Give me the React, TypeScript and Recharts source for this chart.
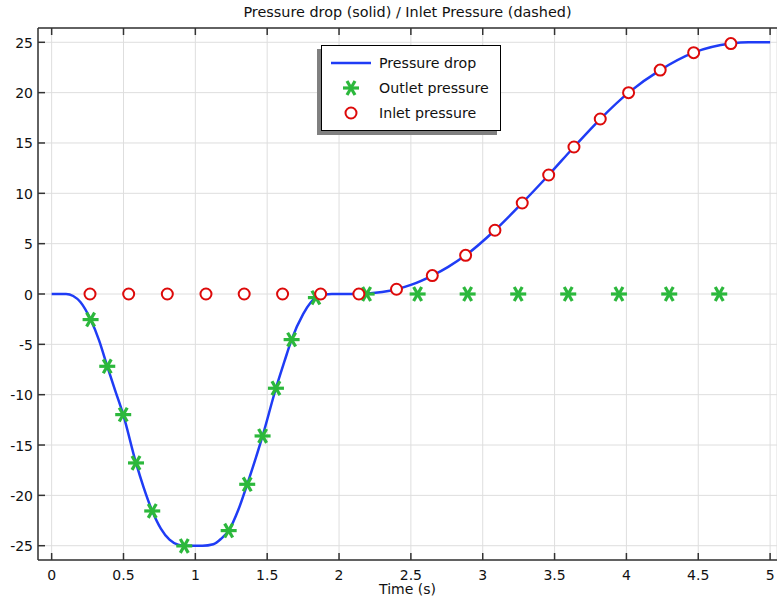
import {
  ComposedChart,
  Line,
  Scatter,
  XAxis,
  YAxis,
  CartesianGrid,
} from "recharts";

// pressure drop curve
const curveTime = [
  0, 0.05, 0.1, 0.15, 0.2, 0.271, 0.33, 0.387, 0.44, 0.498, 0.587, 0.64, 0.7,
  0.76, 0.82, 0.88, 0.923, 1.0, 1.05, 1.125, 1.18, 1.232, 1.3, 1.361, 1.468,
  1.561, 1.62, 1.67, 1.75, 1.8, 1.839, 1.9, 1.95, 2.0, 2.1, 2.2, 2.3, 2.4, 2.5,
  2.649, 2.76, 2.881, 3.085, 3.275, 3.459, 3.635, 3.818, 4.015, 4.235, 4.468,
  4.727, 4.85, 5.0,
];
const curveDrop = [
  0, 0, 0, -0.2, -0.8, -2.54, -4.6, -7.18, -9.5, -11.98, -16.78, -19.2, -21.55,
  -23.3, -24.4, -24.9, -25, -25, -25, -24.85, -24.3, -23.5, -21.4, -18.9, -14.1,
  -9.36, -6.7, -4.53, -2.0, -0.9, -0.36, -0.05, 0, 0, 0, 0.05, 0.2, 0.47, 0.9,
  1.83, 2.7, 3.84, 6.33, 9.04, 11.82, 14.6, 17.38, 20.0, 22.24, 23.97, 24.87,
  25.0, 25.0,
];

// outlet pressure markers
const outletTime = [
  0.271, 0.387, 0.498, 0.587, 0.7, 0.923, 1.232, 1.361, 1.468, 1.561, 1.67,
  1.839, 2.192, 2.547, 2.895, 3.247, 3.595, 3.948, 4.298, 4.646,
];
const outletValue = [
  -2.54, -7.18, -11.98, -16.78, -21.55, -25.02, -23.5, -18.9, -14.1, -9.36,
  -4.53, -0.36, 0, 0, 0, 0, 0, 0, 0, 0,
];

// inlet pressure markers
const inletTime = [
  0.267, 0.536, 0.805, 1.074, 1.34, 1.607, 1.872, 2.138, 2.4, 2.649, 2.881,
  3.085, 3.275, 3.459, 3.635, 3.818, 4.015, 4.235, 4.468, 4.727,
];
const inletValue = [
  0, 0, 0, 0, 0, 0, 0, 0, 0.47, 1.83, 3.84, 6.33, 9.04, 11.82, 14.6, 17.38,
  20.0, 22.24, 23.97, 24.87,
];

const xTicks = [0, 0.5, 1, 1.5, 2, 2.5, 3, 3.5, 4, 4.5, 5];
const yTicks = [-25, -20, -15, -10, -5, 0, 5, 10, 15, 20, 25];

const curveData = curveTime.map((t, i) => ({ t, v: curveDrop[i] }));
const outletData = outletTime.map((t, i) => ({ t, v: outletValue[i] }));
const inletData = inletTime.map((t, i) => ({ t, v: inletValue[i] }));

const BLUE = "#1f3cf5";
const GREEN = "#2cb83c";
const RED = "#dd0a0a";
const FRAME = "#333";
const FONT = "'DejaVu Sans', Verdana, sans-serif";

function StarMark({ cx, cy }: { cx?: number; cy?: number }) {
  if (cx == null || cy == null) return null;
  const r = 8;
  const arms = [0, 60, 120].map((deg) => {
    const a = (deg * Math.PI) / 180;
    const dx = r * Math.cos(a);
    const dy = r * Math.sin(a);
    return (
      <line
        key={deg}
        x1={cx - dx}
        y1={cy - dy}
        x2={cx + dx}
        y2={cy + dy}
        stroke={GREEN}
        strokeWidth={3.2}
      />
    );
  });
  return <g>{arms}</g>;
}

function CircleMark({ cx, cy }: { cx?: number; cy?: number }) {
  if (cx == null || cy == null) return null;
  return <circle cx={cx} cy={cy} r={5.5} fill="#fff" stroke={RED} strokeWidth={2} />;
}

function BottomTick({ x, y, payload }: any) {
  return (
    <g>
      <line x1={x} y1={y} x2={x} y2={y - 7} stroke={FRAME} strokeWidth={1.5} />
      <text x={x} y={y + 19.5} textAnchor="middle" fontSize={14} fill="#111" fontFamily={FONT}>
        {payload.value}
      </text>
    </g>
  );
}

function TopTick({ x, y }: any) {
  return <line x1={x} y1={y} x2={x} y2={y + 7} stroke={FRAME} strokeWidth={1.5} />;
}

function LeftTick({ x, y, payload }: any) {
  return (
    <g>
      <line x1={x} y1={y} x2={x + 7} y2={y} stroke={FRAME} strokeWidth={1.5} />
      <text x={x - 5} y={y + 5.5} textAnchor="end" fontSize={14} fill="#111" fontFamily={FONT}>
        {payload.value}
      </text>
    </g>
  );
}

function LegendBox() {
  const row = { display: "flex", alignItems: "center", height: 25 } as const;
  const icon = { width: 57, display: "flex", justifyContent: "center" } as const;
  return (
    <div
      style={{
        position: "absolute",
        left: 321,
        top: 45,
        width: 180,
        height: 86,
        background: "#fff",
        border: "1.5px solid #000",
        boxShadow: "-4px 4px 0 #808080",
        fontFamily: FONT,
        fontSize: 14.2,
        color: "#111",
        paddingTop: 4,
        boxSizing: "border-box",
      }}
    >
      <div style={row}>
        <span style={icon}>
          <svg width={42} height={6}>
            <line x1={1} y1={3} x2={41} y2={3} stroke={BLUE} strokeWidth={2.5} />
          </svg>
        </span>
        Pressure drop
      </div>
      <div style={row}>
        <span style={icon}>
          <svg width={18} height={18}>
            <StarMark cx={9} cy={9} />
          </svg>
        </span>
        Outlet pressure
      </div>
      <div style={row}>
        <span style={icon}>
          <svg width={14} height={14}>
            <CircleMark cx={7} cy={7} />
          </svg>
        </span>
        Inlet pressure
      </div>
    </div>
  );
}

export default function App() {
  return (
    <div style={{ position: "absolute", left: 0, top: 0, width: 777, height: 596, background: "#fff" }}>
      <ComposedChart
        width={777}
        height={596}
        margin={{ top: 0, right: 0, left: 0, bottom: 0 }}
      >
        <CartesianGrid xAxisId="bottom" yAxisId="left" stroke="#dedede" strokeWidth={1} />
        <XAxis
          xAxisId="bottom"
          dataKey="t"
          type="number"
          domain={[-0.095, 5.048]}
          ticks={xTicks}
          height={36}
          tickSize={0}
          tickMargin={0}
          tickLine={false}
          axisLine={{ stroke: FRAME, strokeWidth: 1.5 }}
          tick={<BottomTick />}
          allowDataOverflow
        />
        <XAxis
          xAxisId="top"
          orientation="top"
          dataKey="t"
          type="number"
          domain={[-0.095, 5.048]}
          ticks={xTicks}
          height={28}
          tickSize={0}
          tickMargin={0}
          tickLine={false}
          axisLine={{ stroke: FRAME, strokeWidth: 1.5 }}
          tick={<TopTick />}
          allowDataOverflow
        />
        <YAxis
          yAxisId="left"
          type="number"
          domain={[-26.42, 26.42]}
          ticks={yTicks}
          width={38}
          tickSize={0}
          tickMargin={0}
          tickLine={false}
          axisLine={{ stroke: FRAME, strokeWidth: 1.5 }}
          tick={<LeftTick />}
          allowDataOverflow
        />
        <Line
          xAxisId="bottom"
          yAxisId="left"
          data={curveData}
          dataKey="v"
          type="monotone"
          stroke={BLUE}
          strokeWidth={2.5}
          dot={false}
          activeDot={false}
          isAnimationActive={false}
        />
        <Scatter
          xAxisId="bottom"
          yAxisId="left"
          data={outletData}
          dataKey="v"
          shape={<StarMark />}
          isAnimationActive={false}
        />
        <Scatter
          xAxisId="bottom"
          yAxisId="left"
          data={inletData}
          dataKey="v"
          shape={<CircleMark />}
          isAnimationActive={false}
        />
      </ComposedChart>
      <div
        style={{
          position: "absolute",
          left: 38,
          width: 739,
          top: 4,
          textAlign: "center",
          fontFamily: FONT,
          fontSize: 14.4,
          color: "#111",
        }}
      >
        Pressure drop (solid) / Inlet Pressure (dashed)
      </div>
      <div
        style={{
          position: "absolute",
          left: 38,
          width: 739,
          top: 584,
          textAlign: "center",
          fontFamily: FONT,
          fontSize: 14,
          lineHeight: "11px",
          color: "#111",
        }}
      >
        Time (s)
      </div>
      <LegendBox />
    </div>
  );
}
